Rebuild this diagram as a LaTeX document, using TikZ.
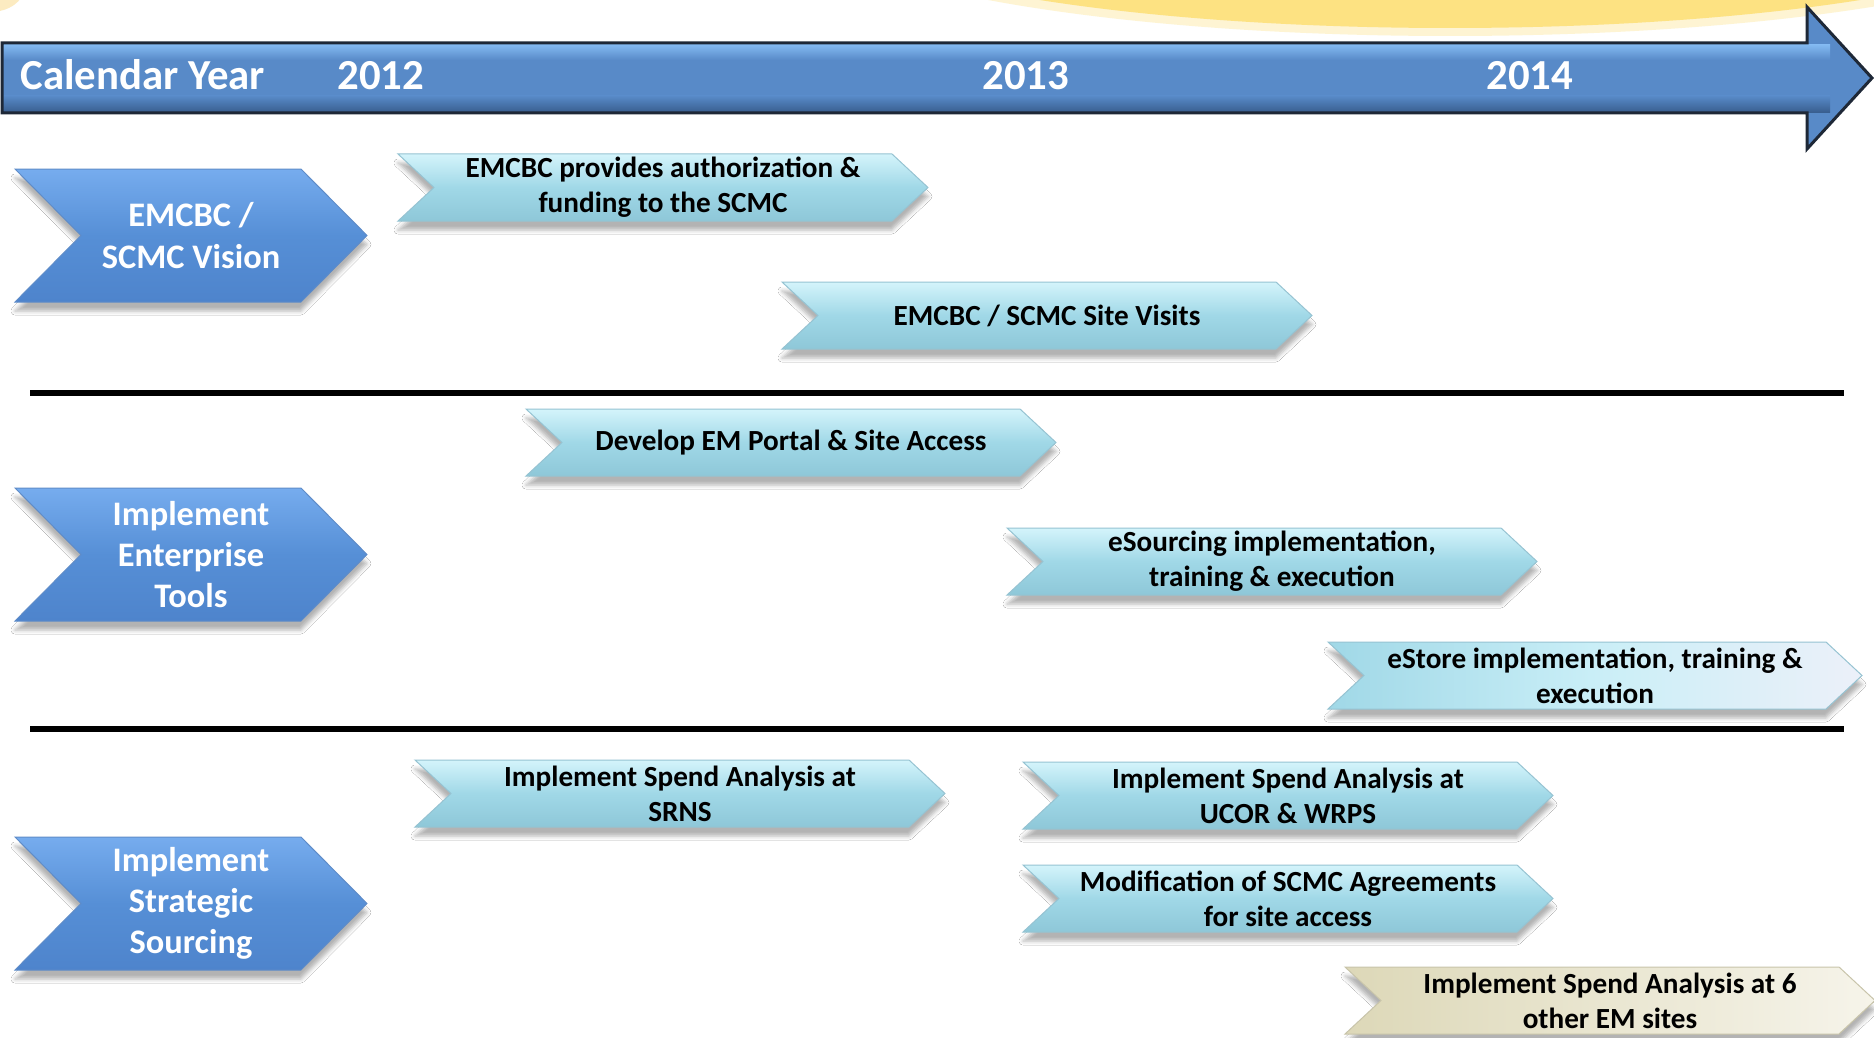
\documentclass[tikz,border=0pt]{standalone}
\usepackage{fontspec}
\setmainfont{Carlito}
\usetikzlibrary{shadows.blur}

\definecolor{tlblue}{RGB}{88,138,200}
\definecolor{tltop}{RGB}{130,184,240}
\definecolor{tlbot}{RGB}{55,92,140}
\definecolor{tledge}{RGB}{30,40,55}
\definecolor{bigtop}{RGB}{118,172,238}
\definecolor{bigmid}{RGB}{86,143,214}
\definecolor{bigbot}{RGB}{78,132,204}
\definecolor{bigedge}{RGB}{95,140,200}
\definecolor{ltop}{RGB}{212,244,251}
\definecolor{lmid}{RGB}{160,216,231}
\definecolor{lbot}{RGB}{142,199,216}
\definecolor{lborder}{RGB}{150,195,210}
\definecolor{estoreR}{RGB}{236,240,249}
\definecolor{beigeL}{RGB}{221,216,184}
\definecolor{beigeR}{RGB}{246,244,234}
\definecolor{beigeborder}{RGB}{200,196,170}
\definecolor{sunyel}{RGB}{253,226,130}
\definecolor{sunorange}{RGB}{248,200,80}

\tikzset{
  shd/.style={blur shadow={shadow xshift=0pt, shadow yshift=-4.5pt, shadow blur radius=2pt, shadow opacity=30}},
  lchev/.style={shd, top color=ltop, bottom color=lbot, middle color=lmid, draw=lborder, line width=0.5pt},
  echev/.style={shd, left color=lmid, right color=estoreR, middle color=ltop!80!lmid, draw=lborder, line width=0.5pt},
  ychev/.style={shd, left color=beigeL, right color=beigeR, draw=beigeborder, line width=0.5pt},
  bchev/.style={shd, top color=bigtop, bottom color=bigbot, middle color=bigmid, draw=bigedge, line width=0.5pt},
  ltxt/.style={font=\bfseries\fontsize{14.6}{17.5}\selectfont, align=center, text=black, inner sep=0pt},
  btxt/.style={font=\bfseries\fontsize{17.2}{20.6}\selectfont, align=center, text=white, inner sep=0pt},
  yeartxt/.style={font=\bfseries\fontsize{21.4}{24}\selectfont, text=white, anchor=base west, inner sep=0pt},
  sepline/.style={line width=3pt, black},
}

% #1 name, #2 left x, #3 top y, #4 width, #5 height, #6 point depth, #7 fill style, #8 text style, #9 text
\newcommand{\chevshape}[9]{%
  \path[#7] (#2,#3) -- ++(#4-#6,0) -- ++(#6,#5/2) -- ++(-#6,#5/2) -- ++(-#4+#6,0) -- ++(#6,-#5/2) -- cycle;
  \node[#8] (#1) at (#2+#4/2,#3+#5/2) {#9};
}

\begin{document}
\begin{tikzpicture}[x=0.5pt,y=-0.5pt]
\useasboundingbox (0,0) rectangle (1874,1038);
\clip (0,0) rectangle (1874,1038);
\fill[white] (0,0) rectangle (1874,1038);

% sun glow
\fill[sunyel, opacity=0.35] (1450,-90) ellipse [x radius=660, y radius=126];
\fill[sunyel] (1450,-92) ellipse [x radius=639, y radius=120];
\fill[sunorange, opacity=0.35] (-10,-12) ellipse [x radius=34, y radius=24];

% timeline arrow
\coordinate (tlstart) at (2,78);
\coordinate (tltip) at (1872,78);
\path[fill=tlblue] (2,43) -- (1807,43) -- (1807,7) -- (tltip) -- (1807,149) -- (1807,113) -- (2,113) -- cycle;
\begin{scope}
  \clip (2,43) -- (1807,43) -- (1807,7) -- (tltip) -- (1807,149) -- (1807,113) -- (2,113) -- cycle;
  \shade[top color=tltop, bottom color=tlblue] (2,45) rectangle (1830,60);
  \shade[top color=tlblue, bottom color=tlbot] (2,96) rectangle (1830,113);
\end{scope}
\draw[tledge, line width=1.5pt, line join=miter] (2,43) -- (1807,43) -- (1807,7) -- (tltip) -- (1807,149) -- (1807,113) -- (2,113) -- cycle;

\node[yeartxt] (cal) at (20,90) {Calendar Year};
\node[yeartxt] (y2012) at (337,90) {2012};
\node[yeartxt] (y2013) at (982,90) {2013};
\node[yeartxt] (y2014) at (1486,90) {2014};

% separators
\coordinate (s1a) at (30,393);
\coordinate (s1b) at (1844,393);
\coordinate (s2a) at (30,729);
\coordinate (s2b) at (1844,729);
\draw[sepline] (s1a) -- (s1b);
\draw[sepline] (s2a) -- (s2b);

% left category chevrons
\chevshape{v1}{15}{169}{352}{133}{66}{bchev}{btxt}{EMCBC /\\SCMC Vision}
\chevshape{v2}{15}{488}{352}{133}{66}{bchev}{btxt}{Implement\\Enterprise\\Tools}
\chevshape{v3}{15}{837}{352}{133}{66}{bchev}{btxt}{Implement\\Strategic\\Sourcing}

% activity chevrons
\chevshape{c1}{398}{154}{530}{67}{36}{lchev}{ltxt}{EMCBC provides authorization \&\\funding to the SCMC}
\chevshape{c2}{782}{282}{530}{67}{36}{lchev}{ltxt}{EMCBC / SCMC Site Visits}
\chevshape{c3}{526}{409}{530}{67}{36}{lchev}{ltxt}{Develop EM Portal \& Site Access}
\chevshape{c4}{1007}{528}{530}{67}{36}{lchev}{ltxt}{eSourcing implementation,\\training \& execution}
\chevshape{c5}{1328}{642}{534}{67}{36}{echev}{ltxt}{eStore implementation, training \&\\execution}
\chevshape{c6}{415}{760}{530}{67}{36}{lchev}{ltxt}{Implement Spend Analysis at\\SRNS}
\chevshape{c7}{1023}{762}{530}{67}{36}{lchev}{ltxt}{Implement Spend Analysis at\\UCOR \& WRPS}
\chevshape{c8}{1023}{865}{530}{67}{36}{lchev}{ltxt}{Modification of SCMC Agreements\\for site access}
\chevshape{c9}{1345}{967}{530}{67}{36}{ychev}{ltxt}{Implement Spend Analysis at 6\\other EM sites}
\end{tikzpicture}
\end{document}
